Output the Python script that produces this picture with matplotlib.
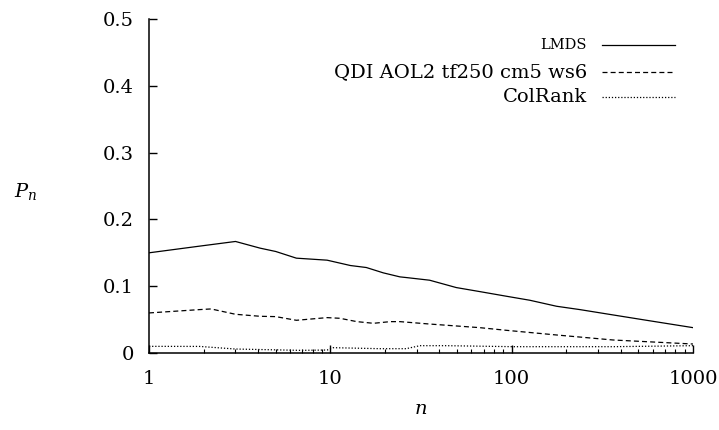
import matplotlib
matplotlib.use('Agg')
import matplotlib.pyplot as plt
from matplotlib.lines import Line2D
from matplotlib.ticker import FixedLocator, LogLocator, NullFormatter

plt.rcParams['font.family'] = 'DejaVu Serif'
plt.rcParams['mathtext.fontset'] = 'dejavuserif'

# values
n_lmds = [1, 1.9, 3.0, 4.1, 5.0, 6.5, 9.6, 12.9, 15.8, 19.6, 24.2, 26.2, 35.3, 49.5,
          66.6, 93.6, 126, 177, 238, 363, 555, 1000]
p_lmds = [0.150, 0.160, 0.167, 0.157, 0.152, 0.142, 0.139, 0.131, 0.128, 0.120, 0.114,
          0.113, 0.109, 0.098, 0.092, 0.085, 0.079, 0.070, 0.065, 0.057, 0.049, 0.038]
n_qdi = [1, 1.9, 2.2, 3.0, 4.1, 5.0, 6.5, 9.6, 11.3, 14, 17.3, 21.4, 24.2, 35.3,
         66.6, 93.6, 177, 363, 1000]
p_qdi = [0.060, 0.065, 0.066, 0.058, 0.055, 0.0545, 0.049, 0.053, 0.052, 0.047, 0.0445,
         0.047, 0.047, 0.0434, 0.038, 0.034, 0.027, 0.0195, 0.0135]
n_col = [1, 1.9, 3.0, 6.8, 9.6, 10.4, 18.8, 26.2, 31.2, 43.6, 102, 363, 1000]
p_col = [0.010, 0.0099, 0.006, 0.004, 0.0045, 0.008, 0.0065, 0.0065, 0.011, 0.011,
         0.0095, 0.0095, 0.011]
labels = ['LMDS', 'QDI AOL2 tf250 cm5 ws6', 'ColRank']

fig = plt.figure(figsize=(7.19, 4.30), dpi=100)
ax = fig.add_axes([0.2072, 0.179, 0.7566, 0.7768])

styles = [dict(ls='-', lw=0.9), dict(ls=(0, (4, 2.5)), lw=0.9), dict(ls=(0, (1, 1.5)), lw=0.9)]
ax.plot(n_lmds, p_lmds, color='black', **styles[0])
ax.plot(n_qdi, p_qdi, color='black', **styles[1])
ax.plot(n_col, p_col, color='black', **styles[2])

ax.set_xscale('log')
ax.set_xlim(1, 1000)
ax.set_ylim(0, 0.5)
ax.xaxis.set_major_locator(FixedLocator([1, 10, 100, 1000]))
ax.set_xticklabels(['1', '10', '100', '1000'])
ax.xaxis.set_minor_locator(LogLocator(base=10, subs=range(2, 10)))
ax.xaxis.set_minor_formatter(NullFormatter())
ax.set_yticks([0, 0.1, 0.2, 0.3, 0.4, 0.5])
ax.set_yticklabels(['0', '0.1', '0.2', '0.3', '0.4', '0.5'])

for s in ['top', 'right']:
    ax.spines[s].set_visible(False)
for s in ['left', 'bottom']:
    ax.spines[s].set_linewidth(1.1)
ax.tick_params(which='major', direction='in', length=6, width=1, labelsize=14)
ax.tick_params(axis='y', which='major', pad=11)
ax.tick_params(axis='x', which='major', pad=12)
ax.tick_params(which='minor', direction='in', length=3, width=0.8)

ax.set_xlabel(r'$n$', fontsize=14, labelpad=9)
fig.text(0.035, 0.555, r'$P_n$', fontsize=14, ha='center', va='center')

# legend, drawn by hand so text is right aligned
ys = [0.922, 0.842, 0.766]
for lab, st, y in zip(labels, styles, ys):
    if lab == 'LMDS':
        ax.text(0.805, y, lab, transform=ax.transAxes, ha='right', va='center', fontsize=10.5)
    else:
        ax.text(0.805, y, lab, transform=ax.transAxes, ha='right', va='center', fontsize=14)
    ax.add_line(Line2D([0.833, 0.967], [y, y], transform=ax.transAxes, color='black', **st))

plt.savefig('out.png', dpi=100)
